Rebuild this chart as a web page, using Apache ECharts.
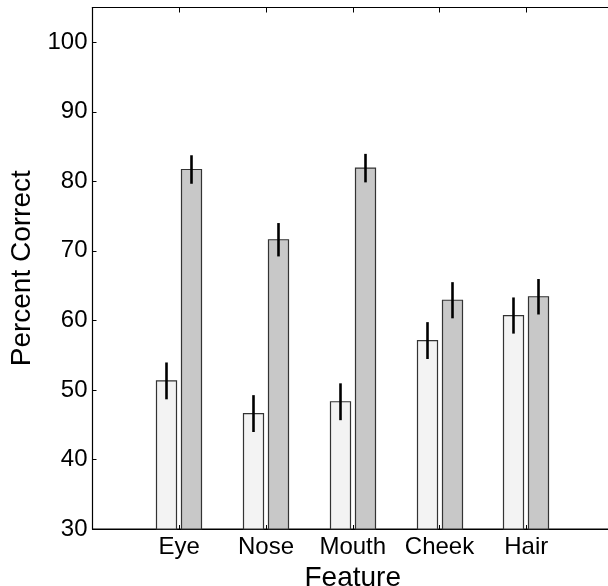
<!DOCTYPE html>
<html>
<head>
<meta charset="utf-8">
<script src="https://cdn.jsdelivr.net/npm/echarts@6/dist/echarts.min.js"></script>
<style>
  html, body { margin: 0; padding: 0; background: #fff; }
  #chart { width: 608px; height: 586px; }
</style>
</head>
<body>
<div id="chart"></div>
<script>
// Feature categories placed at x = 1..5 on a numeric axis running 0..6
const features = ['Eye', 'Nose', 'Mouth', 'Cheek', 'Hair'];

// Percent correct per feature, two conditions, with error half-widths
const lightValues = [51.3, 46.6, 48.3, 57.1, 60.7];
const lightErr    = [2.65, 2.65, 2.65, 2.65, 2.6];
const darkValues  = [81.7, 71.6, 81.9, 62.9, 63.4];
const darkErr     = [2.05, 2.4, 2.05, 2.6, 2.55];

const yTicks = [30, 40, 50, 60, 70, 80, 90, 100];

const FONT = '"Liberation Sans", Arial, Helvetica, sans-serif';
const BAR_W = 20;

function makeData(values, errs) {
  return values.map((v, i) => [i + 1, v, errs[i]]);
}

function barRenderer(pxOffset, fill) {
  return function (params, api) {
    const x = api.value(0), v = api.value(1), e = api.value(2);
    const top = api.coord([x, v]);
    const base = api.coord([x, 30]);
    const hi = api.coord([x, v + e]);
    const lo = api.coord([x, v - e]);
    const cx = Math.round(top[0] + pxOffset);
    return {
      type: 'group',
      children: [
        {
          type: 'rect',
          shape: { x: cx - BAR_W / 2 + 0.5, y: top[1], width: BAR_W, height: base[1] - top[1] },
          style: { fill: fill, stroke: '#333', lineWidth: 1.2 }
        },
        {
          type: 'line',
          shape: { x1: cx + 0.5, y1: hi[1], x2: cx + 0.5, y2: lo[1] },
          style: { stroke: '#000', lineWidth: 2.6 }
        }
      ]
    };
  };
}

const chart = echarts.init(document.getElementById('chart'), null, { renderer: 'canvas' });

chart.setOption({
  animation: false,
  backgroundColor: '#fff',
  grid: {
    left: 92.5, top: 7.5, width: 520.5, bottom: 57,
    outerBoundsMode: 'none',
    containLabel: false,
    show: true, borderColor: '#000', borderWidth: 1
  },
  xAxis: [
    {
      type: 'value',
      min: 0, max: 6, interval: 1,
      name: 'Feature',
      nameLocation: 'middle',
      nameGap: 27,
      nameTextStyle: { fontFamily: FONT, fontSize: 28, color: '#000' },
      axisLine: { show: true, lineStyle: { color: '#000', width: 1.2 } },
      axisTick: { show: true, inside: true, length: 4, lineStyle: { color: '#000' } },
      splitLine: { show: false },
      axisLabel: {
        fontFamily: FONT, fontSize: 24, color: '#000', margin: 6,
        formatter: v => (v >= 1 && v <= features.length ? features[v - 1] : '')
      }
    },
    {
      type: 'value',
      position: 'top',
      min: 0, max: 6, interval: 1,
      axisLine: { show: true, lineStyle: { color: '#000', width: 1.2 } },
      axisTick: { show: true, inside: true, length: 5, lineStyle: { color: '#000' } },
      splitLine: { show: false },
      axisLabel: { show: false }
    }
  ],
  yAxis: {
    type: 'value',
    min: 30, max: 105, interval: 10,
    name: 'Percent Correct',
    nameLocation: 'middle',
    nameGap: 53,
    nameTextStyle: { fontFamily: FONT, fontSize: 28, color: '#000' },
    axisLine: { show: true, lineStyle: { color: '#000', width: 1.2 } },
    axisTick: { show: true, inside: true, length: 4, lineStyle: { color: '#000' } },
    splitLine: { show: false },
    axisLabel: {
      fontFamily: FONT, fontSize: 24, color: '#000', margin: 5,
      showMaxLabel: false,
      formatter: v => (yTicks.indexOf(v) >= 0 ? String(v) : '')
    }
  },
  series: [
    {
      type: 'custom',
      name: 'light',
      renderItem: barRenderer(-13, '#f3f3f3'),
      data: makeData(lightValues, lightErr),
      encode: { x: 0, y: 1 },
      clip: false
    },
    {
      type: 'custom',
      name: 'dark',
      renderItem: barRenderer(12, '#c8c8c8'),
      data: makeData(darkValues, darkErr),
      encode: { x: 0, y: 1 },
      clip: false
    }
  ]
});
</script>
</body>
</html>
